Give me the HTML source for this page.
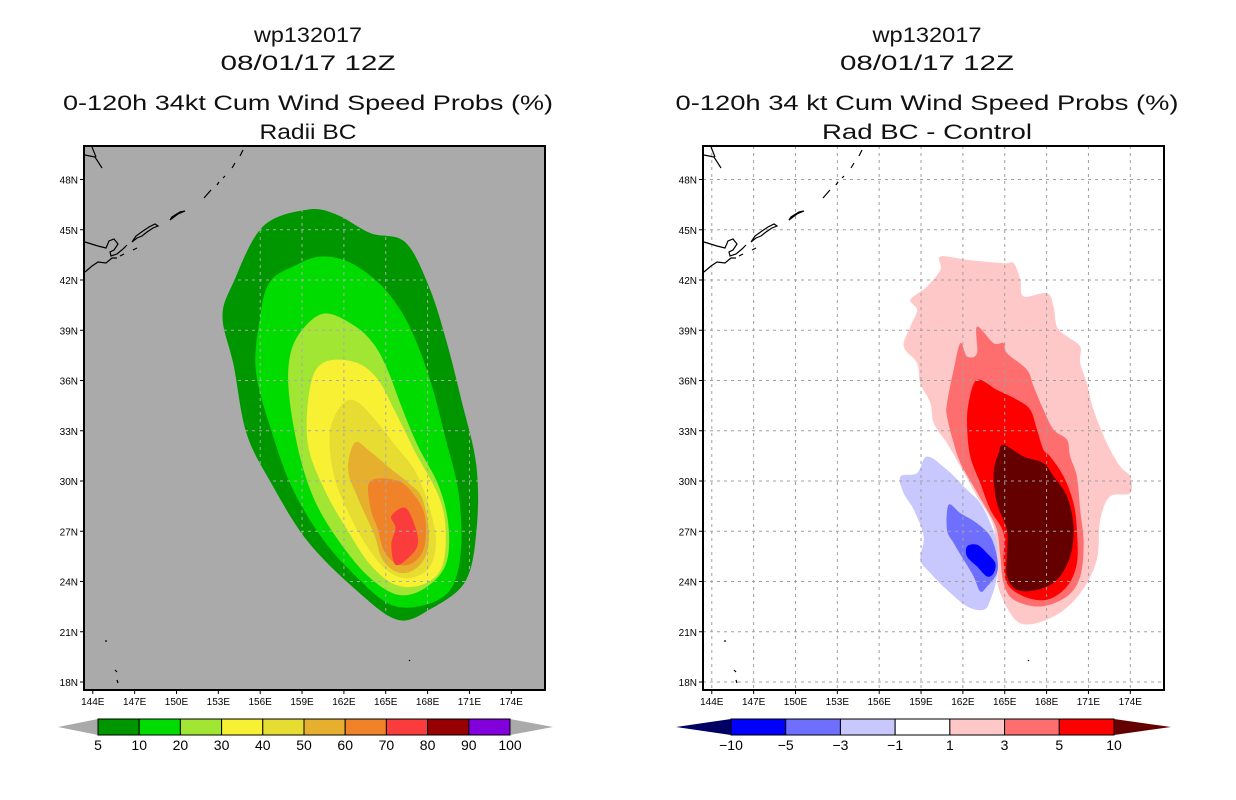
<!DOCTYPE html>
<html><head><meta charset="utf-8"><style>
html,body{margin:0;padding:0;background:#fff;}
svg{display:block;font-family:"Liberation Sans",sans-serif;}
</style></head><body>
<svg id="fig" width="1236" height="800" viewBox="0 0 1236 800" xmlns="http://www.w3.org/2000/svg">
<g id="titles" font-size="21" text-anchor="middle" fill="#111">
 <text x="308" y="42" textLength="108" lengthAdjust="spacingAndGlyphs">wp132017</text>
 <text x="308" y="70" textLength="175" lengthAdjust="spacingAndGlyphs">08/01/17 12Z</text>
 <text x="308" y="110" textLength="490" lengthAdjust="spacingAndGlyphs">0-120h 34kt Cum Wind Speed Probs (%)</text>
 <text x="308" y="139" textLength="97" lengthAdjust="spacingAndGlyphs">Radii BC</text>
 <text x="927" y="42" textLength="109" lengthAdjust="spacingAndGlyphs">wp132017</text>
 <text x="927" y="70" textLength="174" lengthAdjust="spacingAndGlyphs">08/01/17 12Z</text>
 <text x="927" y="110" textLength="503" lengthAdjust="spacingAndGlyphs">0-120h 34 kt Cum Wind Speed Probs (%)</text>
 <text x="927" y="139" textLength="210" lengthAdjust="spacingAndGlyphs">Rad BC - Control</text>
</g>
</svg>
<script>
// ---- data ----
const latTicks = [48,45,42,39,36,33,30,27,24,21,18];
const lonTicks = [144,147,150,153,156,159,162,165,168,171,174];
const leftLevels = ['5','10','20','30','40','50','60','70','80','90','100'];
const leftColors = ['#009600','#00dc00','#a0e632','#f8f032','#e6dc32','#e6af2d','#f08228','#fa3c3c','#960000','#8200dc'];
const rightLevels = ['-10','-5','-3','-1','1','3','5','10'];
const rightColors = ['#0000ff','#6e6eff','#c8c8ff','#ffffff','#ffc8c8','#ff6e6e','#ff0000'];

// left-panel contours (lon, lat)
const p5Lon  = [159.4,161.5,163.9,166.4,168.1,169.3,170.4,171.5,171.5,170.7,168.3,165.9,163.0,159.4,156.7,155.0,154.1,153.3,154.1,156.2];
const p5Lat  = [46.2,45.9,44.8,44.25,41.6,38.5,34.9,30.9,27.0,24.0,22.4,21.7,23.4,26.4,30.0,32.9,36.9,39.8,41.9,45.2];
const p10Lon = [160.3,162.3,164.4,165.9,167.1,168.3,169.3,170.2,170.4,169.7,167.8,165.4,163.0,160.6,158.4,157.0,155.7,156.0,156.7,158.6];
const p10Lat = [43.4,43.1,41.9,40.4,38.5,35.7,32.5,29.4,26.0,23.6,22.6,22.6,24.2,26.4,29.4,32.5,36.5,39.8,41.9,42.9];
const p20Lon = [160.6,162.8,164.2,165.2,166.1,167.3,168.8,169.5,169.3,167.8,165.9,163.9,162.0,160.1,158.9,158.1,158.1,158.9];
const p20Lat = [40.0,39.25,38.1,36.5,34.5,32.1,29.7,27.3,25.0,23.6,23.2,24.2,26.0,28.5,31.3,34.9,37.3,38.9];
const p30Lon = [160.6,162.8,164.4,165.7,167.1,168.8,169.3,169.0,167.6,165.7,163.9,162.3,160.6,159.4,159.6];
const p30Lat = [37.1,37.1,36.1,34.1,31.75,29.1,27.0,24.8,23.8,23.8,25.0,27.0,29.5,32.3,35.7];
const p40Lon = [161.8,162.8,164.2,165.7,167.1,168.1,168.6,168.1,166.6,165.2,163.9,162.5,161.3,161.0];
const p40Lat = [34.5,34.8,33.7,32.1,30.6,28.5,26.4,24.8,24.2,24.6,25.8,27.8,30.3,32.9];
const p50Lon = [162.8,163.9,165.4,166.6,167.6,168.1,167.8,166.8,165.7,164.7,164.2,163.0,162.3];
const p50Lat = [32.3,31.75,30.7,29.9,29.0,26.9,25.4,24.6,24.6,25.4,26.75,29.0,30.7];
const p60Lon = [163.9,165.9,167.1,167.8,167.8,167.1,165.9,164.9,164.4,163.9];
const p60Lat = [30.0,30.0,29.1,27.9,26.2,25.2,25.0,25.8,27.2,28.4];
const p70Lon = [165.4,166.4,167.1,167.3,166.6,165.7,165.4,165.7];
const p70Lat = [27.9,28.4,27.3,26.2,25.4,25.0,26.2,27.2];

// right-panel contours (lon, lat)
const d1Lon = [160.39,162.30,164.92,165.64,166.11,166.35,168.02,168.50,168.74,169.46,170.41,170.41,170.89,171.36,172.32,173.27,173.99,173.99,172.56,171.84,171.60,170.41,168.50,166.11,164.68,164.44,164.20,163.01,161.82,160.86,159.91,159.67,158.95,158.72,157.76,158.24,158.72,158.24,159.43,160.39];
const d1Lat = [43.40,43.20,43.0,43.0,42.01,41.02,41.22,40.42,39.22,38.63,38.03,37.04,35.84,34.25,32.26,30.87,30.27,29.27,29.08,27.68,25.29,23.30,21.91,21.51,23.30,24.70,27.28,29.08,30.87,32.26,33.45,34.65,35.84,37.04,38.03,39.22,40.22,40.82,41.61,42.61];
const d3Lon = [163.01,164.20,164.92,165.16,166.59,167.07,167.78,168.50,169.46,169.69,170.17,170.41,170.65,170.41,169.46,167.55,165.64,164.92,164.68,164.44,163.73,162.77,161.82,161.34,160.86,160.86,161.34,161.82,162.30,163.01];
const d3Lat = [39.22,38.23,38.23,37.63,36.64,35.64,34.25,33.06,32.46,31.46,30.27,28.28,26.29,24.30,23.11,22.51,22.91,23.90,25.49,27.09,28.28,29.67,31.07,32.26,33.85,34.65,36.64,38.23,37.43,37.63];
const d5Lon = [163.01,164.44,165.88,166.83,167.31,167.78,168.26,169.22,169.93,170.17,170.17,169.46,168.02,166.35,165.16,164.92,164.92,163.97,163.25,162.53,162.30,162.41];
const d5Lat = [36.04,35.44,34.85,34.25,33.06,31.86,31.46,30.27,28.68,27.09,25.10,23.70,22.91,23.11,23.90,25.29,26.89,28.28,29.87,31.46,33.26,34.65];
const d10Lon = [164.92,166.35,167.78,168.50,169.46,169.93,169.69,168.74,167.31,165.88,165.16,165.16,165.16,164.44,164.20,164.56];
const d10Lat = [32.16,31.46,31.07,30.27,29.08,27.28,25.49,24.10,23.50,23.50,24.30,25.49,27.09,28.68,30.47,31.66];
const n1Lon = [159.43,160.86,162.30,163.25,163.97,164.44,164.44,163.97,163.49,162.30,160.86,159.67,158.95,159.19,158.48,157.76,157.52,158.72];
const n1Lat = [31.46,30.67,29.47,28.68,27.48,26.29,24.30,22.91,22.31,22.51,23.50,24.50,25.29,26.69,28.28,29.27,30.27,30.47];
const n3Lon = [160.98,161.82,163.01,163.97,164.44,164.44,163.73,163.25,162.77,162.06,161.34,160.86];
const n3Lat = [28.58,28.08,27.48,26.69,25.49,24.50,23.70,23.40,24.30,25.29,26.29,27.09];
const n5Lon = [162.30,163.01,163.73,164.32,164.20,163.73,163.01,162.30];
const n5Lat = [26.09,26.19,25.69,25.10,24.50,24.30,24.90,25.49];

// ---- drawing ----
const NS='http://www.w3.org/2000/svg';
const svg=document.getElementById('fig');
function el(tag,attrs,parent){const e=document.createElementNS(NS,tag);for(const k in attrs)e.setAttribute(k,attrs[k]);(parent||svg).appendChild(e);return e;}
const LON0=143.37, LAT0=50.0, SX=13.95, SY=16.75, PY=146, PW=461, PH=544;
function mkX(px){return lon=>px+(lon-LON0)*SX;}
function yOf(lat){return PY+(LAT0-lat)*SY;}
function smoothPath(xs,ys){
  const n=xs.length;let d='M'+xs[0].toFixed(1)+','+ys[0].toFixed(1);
  for(let i=0;i<n;i++){
    const p0=i-1<0?n-1:i-1,p2=(i+1)%n,p3=(i+2)%n;
    const c1x=xs[i]+(xs[p2]-xs[p0])/6,c1y=ys[i]+(ys[p2]-ys[p0])/6;
    const c2x=xs[p2]-(xs[p3]-xs[i])/6,c2y=ys[p2]-(ys[p3]-ys[i])/6;
    d+=' C'+c1x.toFixed(1)+','+c1y.toFixed(1)+' '+c2x.toFixed(1)+','+c2y.toFixed(1)+' '+xs[p2].toFixed(1)+','+ys[p2].toFixed(1);
  }
  return d+'Z';
}
function drawPanel(px,bg,contours,gridColor,side){
  const xOf=mkX(px);
  const g=el('g',{});
  
  
  const cp=el('clipPath',{id:'clip-'+side},g);
  el('rect',{x:px,y:PY,width:PW,height:PH},cp);
  const bgr=el('rect',{x:px,y:PY,width:PW,height:PH,fill:bg},g);
  
  
  const inner=el('g',{'clip-path':'url(#clip-'+side+')'},g);
  contours.forEach(c=>{
    const p=el('path',{d:smoothPath(c[0].map(xOf),c[1].map(yOf)),fill:c[2]},inner);
    
    
  });
  // grid
  lonTicks.forEach(l=>{const x=xOf(l);const ln=el('line',{x1:x,x2:x,y1:PY,y2:PY+PH,stroke:gridColor,'stroke-width':1,'stroke-dasharray':'3,4'},inner);
    
    });
  latTicks.forEach(l=>{const y=yOf(l);const ln=el('line',{x1:px,x2:px+PW,y1:y,y2:y,stroke:gridColor,'stroke-width':1,'stroke-dasharray':'3,4'},inner);
    
    });
  // coastline (panel-relative)
  const o=px-84;
  const coast=el('g',{fill:'none',stroke:'#000','stroke-width':1.2,transform:'translate('+o+',0)'},inner);
  
  
  ['M85,155 L95,157 L102,168','M92,147 L96,157','M85,242 L98,246 L106,248 L109,241 L114,239 L118,244 L114,250 L110,252 L111,256 L117,254 L123,249 L127,245',
   'M132,242 L137,238 L142,236 L147,232 L153,228 L158,226 L155,224 L149,227 L143,231 L136,236 Z','M170,220 L178,214 L185,211 L180,212 L172,217 Z',
   'M85,272 L92,266 L98,262 L106,263 L112,258 L117,258','M120,256 L124,254','M133,250 L137,248','M204,198 L211,190','M217,185 L219,182',
   'M223,178 L225,176','M232,168 L235,163','M240,156 L243,150','M106,640 L106,642','M115,670 L117,672','M117,680 L118,683','M409,660 L410,661']
   .forEach(d=>el('path',{d:d},coast));
  const fr=el('rect',{x:px,y:PY,width:PW,height:PH,fill:'none',stroke:'#000','stroke-width':2},g);
  
  
  // ticks
  latTicks.forEach(l=>{const y=yOf(l);
    el('line',{x1:px-4,x2:px,y1:y,y2:y,stroke:'#000'},g);
    const t=el('text',{x:px-6,y:y+4,'font-size':10,'text-anchor':'end'},g);t.textContent=l+'N';
    
    });
  lonTicks.forEach(l=>{const x=xOf(l);
    el('line',{x1:x,x2:x,y1:PY+PH,y2:PY+PH+4,stroke:'#000'},g);
    const t=el('text',{x:x,y:PY+PH+15,'font-size':10,'text-anchor':'middle'},g);t.textContent=l+'E';
    
    });
}
drawPanel(84,'#aaaaaa',[[p5Lon,p5Lat,leftColors[0],'5'],[p10Lon,p10Lat,leftColors[1],'10'],[p20Lon,p20Lat,leftColors[2],'20'],[p30Lon,p30Lat,leftColors[3],'30'],
  [p40Lon,p40Lat,leftColors[4],'40'],[p50Lon,p50Lat,leftColors[5],'50'],[p60Lon,p60Lat,leftColors[6],'60'],[p70Lon,p70Lat,leftColors[7],'70']],'#aaaaaa','left');
drawPanel(703,'#ffffff',[[d1Lon,d1Lat,rightColors[4],'1'],[d3Lon,d3Lat,rightColors[5],'3'],[d5Lon,d5Lat,rightColors[6],'5'],[d10Lon,d10Lat,'#640000','10'],
  [n1Lon,n1Lat,rightColors[2],'minus1'],[n3Lon,n3Lat,rightColors[1],'minus3'],[n5Lon,n5Lat,rightColors[0],'minus5']],'#a0a0a0','right');

// colorbars
function colorbar(x0,x1,tipL,tipR,colors,labels,lc,rc,side){
  const g=el('g',{});
  
  
  const y0=719,y1=735,ym=727,w=(x1-x0)/colors.length;
  const a=el('path',{d:`M${tipL},${ym} L${x0},${y0} L${x0},${y1} Z`,fill:lc},g);
  
  
  const b=el('path',{d:`M${tipR},${ym} L${x1},${y0} L${x1},${y1} Z`,fill:rc},g);
  
  
  colors.forEach((c,i)=>{const r=el('rect',{x:x0+i*w,y:y0,width:w,height:y1-y0,fill:c,stroke:'#000','stroke-width':1},g);
    
    });
  labels.forEach((l,i)=>{const t=el('text',{x:x0+i*w,y:750,'font-size':14,'text-anchor':'middle'},g);t.textContent=l.replace('-','\u2212');
    
    });
}
colorbar(98,510,58,553,leftColors,leftLevels,'#aaaaaa','#aaaaaa','left');
colorbar(731,1114,676,1171,rightColors,rightLevels,'#000064','#640000','right');
</script>
</body></html>
